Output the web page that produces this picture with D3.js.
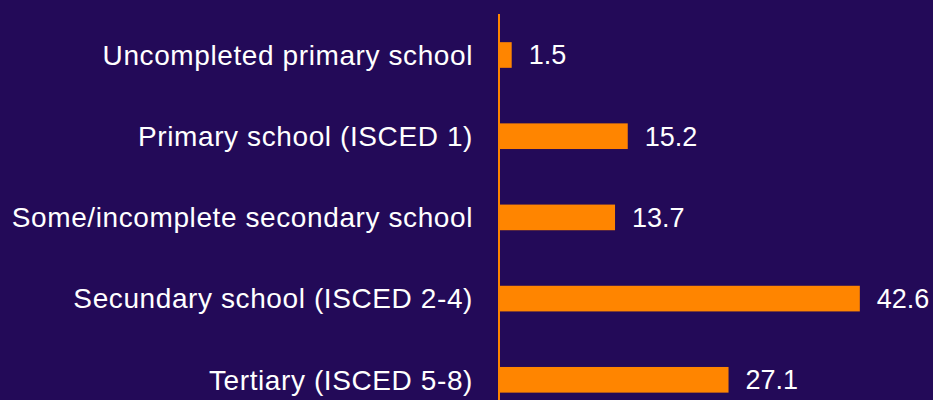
<!DOCTYPE html>
<html>
<head>
<meta charset="utf-8">
<script src="https://cdn.jsdelivr.net/npm/d3@7"></script>
<style>
  html, body { margin: 0; padding: 0; background: #230a58; }
  svg { display: block; }
</style>
</head>
<body>
<svg id="chart"></svg>
<script>
// categories and values
var categories = [
    "Uncompleted primary school",
    "Primary school (ISCED 1)",
    "Some/incomplete secondary school",
    "Secundary school (ISCED 2-4)",
    "Tertiary (ISCED 5-8)"
];
var values = [1.5, 15.2, 13.7, 42.6, 27.1];

var width = 933,
    height = 400;

var svg = d3.select("#chart")
    .attr("width", width)
    .attr("height", height);

svg.append("rect")
    .attr("width", width)
    .attr("height", height)
    .attr("fill", "#230a58");

var data = categories.map((c, i) => ({ cat: c, value: values[i] }));

// x scale, zero sits on the orange axis line
var x = d3.scaleLinear()
    .domain([0, 50])
    .range([499, 922.5]);

// y scale, chart runs past the bottom edge
var y = d3.scaleBand()
    .domain(categories)
    .range([14.4, 420.4])
    .paddingInner(0.684)
    .paddingOuter(0.342);

// bars
svg.selectAll(".bar")
    .data(data)
    .enter()
    .append("rect")
    .attr("class", "bar")
    .attr("x", x(0))
    .attr("y", d => y(d.cat))
    .attr("width", d => x(d.value) - x(0))
    .attr("height", y.bandwidth())
    .attr("fill", "#ff8500");

// vertical axis line
svg.append("line")
    .attr("x1", x(0))
    .attr("x2", x(0))
    .attr("y1", 14)
    .attr("y2", height)
    .attr("stroke", "#ff8500")
    .attr("stroke-width", 2);

// category labels (a little letter spacing, the original text runs wider)
svg.selectAll(".cat")
    .data(data)
    .enter()
    .append("text")
    .attr("class", "cat")
    .attr("x", 473)
    .attr("y", d => y(d.cat) + y.bandwidth() / 2)
    .attr("dy", "0.35em")
    .attr("text-anchor", "end")
    .attr("fill", "#ffffff")
    .style("font-family", "'Liberation Sans', Arial, sans-serif")
    .style("font-size", "28px")
    .style("letter-spacing", "0.6px")
    .text(d => d.cat);

// value labels
svg.selectAll(".val")
    .data(data)
    .enter()
    .append("text")
    .attr("class", "val")
    .attr("x", d => x(d.value) + 17)
    .attr("y", d => y(d.cat) + y.bandwidth() / 2)
    .attr("dy", "0.35em")
    .attr("fill", "#ffffff")
    .style("font-family", "'Liberation Sans', Arial, sans-serif")
    .style("font-size", "27px")
    .text(d => d.value.toFixed(1));
</script>
</body>
</html>
